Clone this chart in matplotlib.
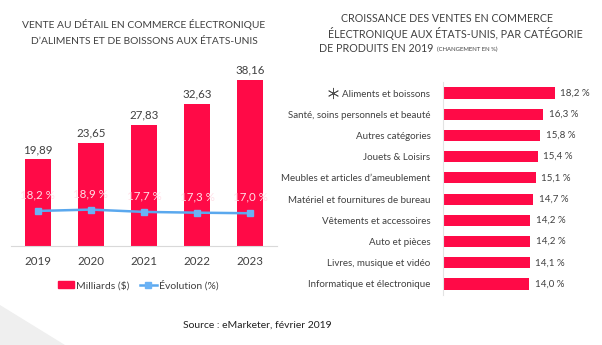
import matplotlib.pyplot as plt
import matplotlib.patches as mpatches
from matplotlib.lines import Line2D
import matplotlib.transforms as mtransforms

plt.rcParams['font.family'] = ['Lato', 'DejaVu Sans']

# donnees
years = ["2019", "2020", "2021", "2022", "2023"]
sales = [19.89, 23.65, 27.83, 32.63, 38.16]
growth = [18.2, 18.9, 17.7, 17.3, 17.0]

categories = ["Aliments et boissons", "Santé, soins personnels et beauté", "Autres catégories",
              "Jouets & Loisirs", "Meubles et articles d’ameublement",
              "Matériel et fournitures de bureau", "Vêtements et accessoires",
              "Auto et pièces", "Livres, musique et vidéo", "Informatique et électronique"]
cat_growth = [18.2, 16.3, 15.8, 15.4, 15.1, 14.7, 14.2, 14.2, 14.1, 14.0]

RED = '#FF0A47'
BLUE = '#5AA8EE'
TXT = '#404040'
W, H = 602, 345

fig = plt.figure(figsize=(W / 100, H / 100), dpi=100)
fig.patch.set_facecolor('white')

def px(x0, y0, x1, y1):
    return [x0 / W, 1 - y1 / H, (x1 - x0) / W, (y1 - y0) / H]

def ftext(x, y, s, **kw):
    fig.text(x / W, 1 - y / H, s, **kw)

# forme grise decorative en bas a gauche
fig.patches.append(mpatches.Polygon([[0, 0], [0, 40 / H], [65 / W, 0]], closed=True,
                                    transform=fig.transFigure, facecolor='#efefef',
                                    edgecolor='none', zorder=0))

# ---- graphique gauche
ax = fig.add_axes(px(11, 63, 277, 246))
x = range(len(years))
ax.bar(x, sales, width=0.49, color=RED, zorder=2)
for i, v in enumerate(sales):
    ax.text(i, v + 1.0, f"{v:.2f}".replace('.', ','), ha='center', va='bottom',
            fontsize=8.3, color=TXT)
ax.set_xlim(-0.5, 4.5)
ax.set_ylim(0, 42)
ax.set_xticks(list(x))
ax.set_xticklabels(years, fontsize=8.3, color=TXT)
ax.tick_params(axis='x', length=0, pad=7)
ax.set_yticks([])
for s in ['top', 'right', 'left']:
    ax.spines[s].set_visible(False)
ax.spines['bottom'].set_color('#d9d9d9')

ax2 = ax.twinx()
ax2.plot(list(x), growth, color=BLUE, lw=1.8, marker='s', ms=5, mfc='#6AB2F5',
         mec='#6AB2F5', zorder=3)
for i, v in enumerate(growth):
    ax2.text(i, v + 5.5, f"{v:.1f} %".replace('.', ','), ha='center', va='bottom',
             fontsize=8.3, color='#ffe0e8')
ax2.set_ylim(0, 95)
ax2.set_yticks([])
for s in ax2.spines.values():
    s.set_visible(False)

leg_handles = [mpatches.Patch(color=RED, label='Milliards ($)'),
               Line2D([0], [0], color=BLUE, lw=1.8, marker='s', ms=4, mfc='#6AB2F5',
                      mec='#6AB2F5', label='Évolution (%)')]
fig.legend(handles=leg_handles, loc='center', bbox_to_anchor=(138 / W, 1 - 285 / H),
           ncol=2, frameon=False, fontsize=7.5, handlelength=1.6, handletextpad=0.2,
           columnspacing=1.0, labelcolor=TXT)

ftext(144, 25, "VENTE AU DÉTAIL EN COMMERCE ÉLECTRONIQUE", ha='center', va='center',
      fontsize=7.4, color=TXT)
ftext(144, 42, "D’ALIMENTS ET DE BOISSONS AUX ÉTATS-UNIS", ha='center', va='center',
      fontsize=7.4, color=TXT)

# ---- graphique droite
bx = fig.add_axes(px(443, 82.4, 590, 294.6))
y = range(len(categories))
bx.barh(list(y), cat_growth, height=0.52, color=RED)
for i, v in enumerate(cat_growth):
    bx.text(v + 0.9, i, f"{v:.1f} %".replace('.', ','), ha='left', va='center',
            fontsize=7, color=TXT)
bx.set_ylim(9.5, -0.5)
bx.set_xlim(0, 23.9)
bx.set_yticks(list(y))
bx.set_yticklabels(categories, fontsize=7, color=TXT)
bx.tick_params(axis='y', length=0, pad=9)
bx.set_xticks([])
for s in ['top', 'right', 'bottom']:
    bx.spines[s].set_visible(False)
bx.spines['left'].set_color('#e3e3e3')

# asterisque devant "Aliments et boissons"
trans = mtransforms.blended_transform_factory(fig.transFigure, bx.transData)
bx.plot([333 / W], [0], marker=(6, 2, 0), ms=8, mew=0.6, color='#505050',
        transform=trans, clip_on=False)

ftext(447, 18, "CROISSANCE DES VENTES EN COMMERCE", ha='center', va='center',
      fontsize=7.7, color=TXT)
ftext(455, 33, "ÉLECTRONIQUE AUX ÉTATS-UNIS, PAR CATÉGORIE", ha='center', va='center',
      fontsize=7.7, color=TXT)
ftext(433, 48, "DE PRODUITS EN 2019", ha='right', va='center', fontsize=7.7, color=TXT)
ftext(437, 49, "(CHANGEMENT EN %)", ha='left', va='center', fontsize=4.3, color=TXT)

ftext(257, 325, "Source : eMarketer, février 2019", ha='center', va='center',
      fontsize=7.5, color='#202020')

fig.savefig('out.png', dpi=100, facecolor='white')
